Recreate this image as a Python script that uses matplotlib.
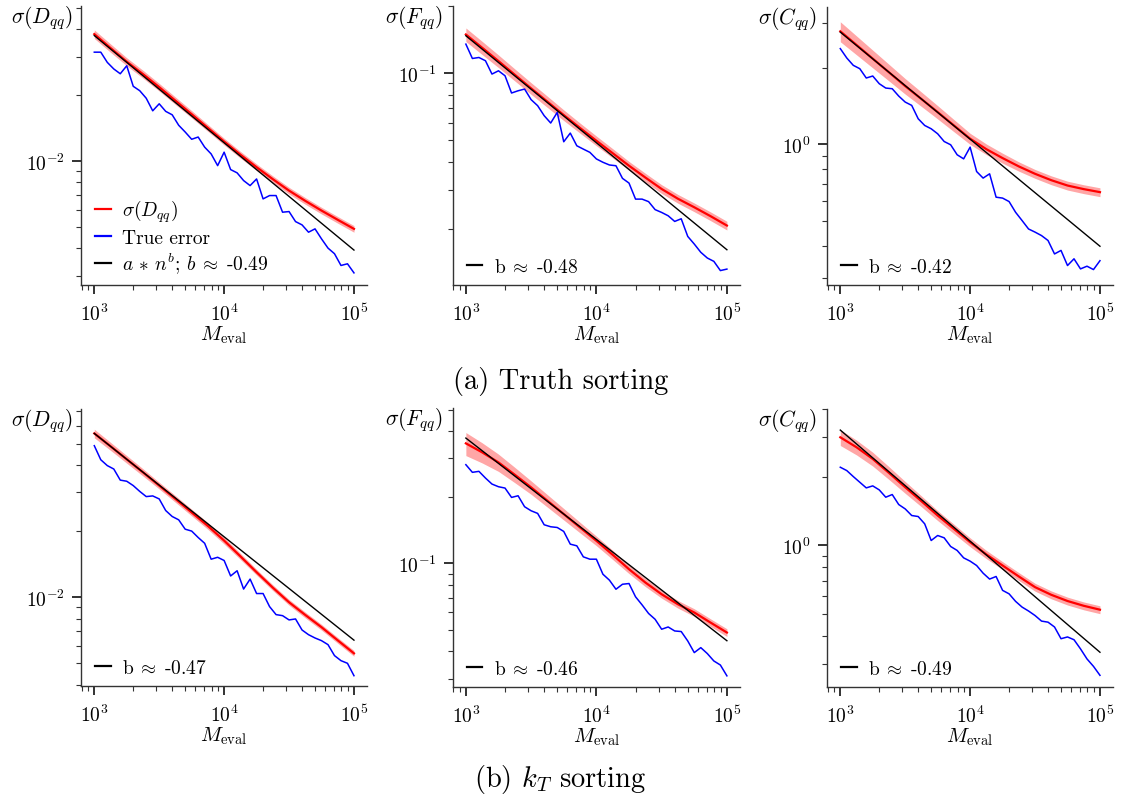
import matplotlib
matplotlib.use("Agg")
import matplotlib.pyplot as plt
from matplotlib.ticker import NullFormatter

plt.rcParams["font.family"] = ["cmr10", "DejaVu Serif"]
plt.rcParams["mathtext.fontset"] = "cm"
plt.rcParams["axes.formatter.use_mathtext"] = True
plt.rcParams["axes.unicode_minus"] = False
plt.rcParams["font.size"] = 14

# evaluation sizes for the true error curves
m_eval = [1000, 1122, 1259, 1413, 1585, 1778, 1995, 2239, 2512, 2818,
          3162, 3548, 3981, 4467, 5012, 5623, 6310, 7079, 7943, 8913,
          10000, 11220, 12589, 14125, 15849, 17783, 19953, 22387, 25119, 28184,
          31623, 35481, 39811, 44668, 50119, 56234, 63096, 70795, 79433, 89125,
          100000]
# evaluation sizes for the predicted sigma curves
m_sigma = [1000, 1334, 1778, 2371, 3162, 4217, 5623, 7499, 10000,
           13335, 17783, 23714, 31623, 42170, 56234, 74989, 100000]

# ---- truth sorting ----
truth_D_sigma = [0.0381, 0.0329, 0.0285, 0.0250, 0.0218, 0.0189, 0.0164, 0.0142, 0.0123,
                 0.01072, 0.00939, 0.00828, 0.00734, 0.00659, 0.00595, 0.00540, 0.00491]
truth_D_band = [0.045, 0.044, 0.042, 0.041, 0.04, 0.039, 0.038, 0.036, 0.035,
                0.035, 0.035, 0.035, 0.035, 0.035, 0.035, 0.035, 0.035]
truth_D_err = [0.0315, 0.0315, 0.0283, 0.0264, 0.0251, 0.0273, 0.0220, 0.0210, 0.0194, 0.0170,
               0.0183, 0.0169, 0.0163, 0.0146, 0.0136, 0.0126, 0.0129, 0.0116, 0.0108, 0.00955,
               0.0110, 0.00916, 0.00885, 0.00816, 0.00774, 0.00830, 0.00673, 0.00697, 0.00697, 0.00585,
               0.00589, 0.00530, 0.00512, 0.00474, 0.00491, 0.00442, 0.00401, 0.00378, 0.00334, 0.00340,
               0.00309]

truth_F_sigma = [0.1490, 0.1299, 0.1132, 0.0983, 0.0854, 0.0744, 0.0648, 0.0567, 0.0497,
                 0.0437, 0.0384, 0.0340, 0.0302, 0.0273, 0.0250, 0.0228, 0.0207]
truth_F_band = [0.07, 0.068, 0.065, 0.062, 0.06, 0.058, 0.055, 0.052, 0.05,
                0.048, 0.045, 0.045, 0.045, 0.045, 0.045, 0.045, 0.045]
truth_F_err = [0.1349, 0.1163, 0.1175, 0.1136, 0.0990, 0.1024, 0.0973, 0.0814, 0.0833, 0.0848,
               0.0760, 0.0714, 0.0644, 0.0597, 0.0666, 0.0492, 0.0538, 0.0472, 0.0456, 0.0441,
               0.0412, 0.0398, 0.0387, 0.0384, 0.0337, 0.0321, 0.0272, 0.0272, 0.0265, 0.0244,
               0.0237, 0.0229, 0.0216, 0.0222, 0.0185, 0.0171, 0.0157, 0.0148, 0.0143, 0.0130,
               0.0132]

truth_C_sigma = [2.778, 2.455, 2.170, 1.918, 1.694, 1.507, 1.339, 1.187, 1.053,
                 0.958, 0.884, 0.820, 0.767, 0.724, 0.690, 0.668, 0.650]
truth_C_band = [0.09, 0.085, 0.08, 0.075, 0.07, 0.065, 0.06, 0.055, 0.05,
                0.048, 0.045, 0.042, 0.04, 0.04, 0.04, 0.04, 0.04]
truth_C_err = [2.376, 2.183, 2.043, 1.982, 1.822, 1.855, 1.731, 1.664, 1.654, 1.548,
               1.466, 1.423, 1.261, 1.187, 1.152, 1.101, 1.027, 0.997, 0.911, 0.878,
               0.976, 0.783, 0.738, 0.767, 0.621, 0.616, 0.597, 0.542, 0.503, 0.466,
               0.453, 0.439, 0.420, 0.372, 0.384, 0.335, 0.356, 0.325, 0.333, 0.323,
               0.350]

# ---- kT sorting ----
kt_D_sigma = [0.0556, 0.0486, 0.0424, 0.0370, 0.0322, 0.0280, 0.0243, 0.0211, 0.0181,
              0.01536, 0.0130, 0.01106, 0.00949, 0.00831, 0.00731, 0.00637, 0.00556]
kt_D_band = [0.045, 0.042, 0.04, 0.038, 0.035, 0.035, 0.035, 0.035, 0.035,
             0.032, 0.03, 0.03, 0.03, 0.03, 0.03, 0.03, 0.03]
kt_D_err = [0.0489, 0.0422, 0.0397, 0.0383, 0.0341, 0.0337, 0.0322, 0.0303, 0.0287, 0.0289,
            0.0280, 0.0248, 0.0233, 0.0225, 0.0204, 0.0200, 0.0187, 0.0176, 0.0149, 0.0152,
            0.0147, 0.0125, 0.0132, 0.0109, 0.0121, 0.0104, 0.0104, 0.00907, 0.00834, 0.00825,
            0.00789, 0.00797, 0.00710, 0.00676, 0.00653, 0.00635, 0.00609, 0.00543, 0.00515, 0.00501,
            0.00440]

kt_F_sigma = [0.351, 0.3195, 0.2877, 0.2529, 0.2216, 0.1927, 0.1676, 0.1457, 0.1268,
              0.1095, 0.0942, 0.0820, 0.0725, 0.0653, 0.0599, 0.0539, 0.0486]
kt_F_band = [0.12, 0.105, 0.09, 0.08, 0.07, 0.065, 0.06, 0.055, 0.05,
             0.048, 0.045, 0.042, 0.04, 0.04, 0.04, 0.04, 0.04]
kt_F_err = [0.2809, 0.2593, 0.2620, 0.2443, 0.2294, 0.2231, 0.2200, 0.1995, 0.2030, 0.1810,
            0.1735, 0.1688, 0.1499, 0.1468, 0.1457, 0.1398, 0.1224, 0.1203, 0.1072, 0.1046,
            0.1046, 0.0894, 0.0840, 0.0764, 0.0805, 0.0811, 0.0706, 0.0649, 0.0593, 0.0558,
            0.0503, 0.0515, 0.0494, 0.0491, 0.0445, 0.0394, 0.0415, 0.0390, 0.0361, 0.0346,
            0.0309]

kt_C_sigma = [3.001, 2.712, 2.409, 2.090, 1.807, 1.568, 1.356, 1.184, 1.034,
              0.913, 0.816, 0.730, 0.655, 0.606, 0.569, 0.542, 0.521]
kt_C_band = [0.08, 0.075, 0.07, 0.065, 0.06, 0.055, 0.05, 0.048, 0.045,
             0.042, 0.04, 0.04, 0.04, 0.04, 0.04, 0.04, 0.04]
kt_C_err = [2.214, 2.140, 2.014, 1.901, 1.795, 1.832, 1.759, 1.633, 1.678, 1.516,
            1.450, 1.356, 1.342, 1.246, 1.052, 1.107, 1.081, 0.990, 0.951, 0.882,
            0.853, 0.816, 0.755, 0.711, 0.730, 0.634, 0.612, 0.567, 0.535, 0.514,
            0.491, 0.464, 0.459, 0.437, 0.388, 0.395, 0.384, 0.350, 0.316, 0.293,
            0.2675]

# power-law fits a * n^b
fit_a = [1.107, 4.05, 50.2, 1.429, 8.90, 95.3]
fit_b = [-0.49, -0.48, -0.42, -0.47, -0.46, -0.49]

ylabels = [r"$\sigma(D_{qq})$", r"$\sigma(F_{qq})$", r"$\sigma(C_{qq})$"]
captions = ["(a) Truth sorting", r"(b) $k_T$ sorting"]

panels = [
    (truth_D_sigma, truth_D_band, truth_D_err, (2.72e-3, 5.12e-2)),
    (truth_F_sigma, truth_F_band, truth_F_err, (1.12e-2, 0.200)),
    (truth_C_sigma, truth_C_band, truth_C_err, (0.281, 3.46)),
    (kt_D_sigma, kt_D_band, kt_D_err, (3.95e-3, 7.18e-2)),
    (kt_F_sigma, kt_F_band, kt_F_err, (2.75e-2, 0.508)),
    (kt_C_sigma, kt_C_band, kt_C_err, (0.2376, 4.0)),
]

W, H = 1121, 803
# axes boxes in pixels: left, top, right, bottom
boxes = [(81, 7, 367, 286), (452.5, 7, 740, 286), (827, 8, 1113, 286),
         (81, 410, 367, 687), (452.5, 409, 740, 688), (827, 410, 1113, 688)]

fig = plt.figure(figsize=(W / 100, H / 100), dpi=100)

for i, (sig, band, err, ylim) in enumerate(panels):
    l, t, r, b = boxes[i]
    ax = fig.add_axes([l / W, 1 - b / H, (r - l) / W, (b - t) / H])
    lo = [s * (1 - w) for s, w in zip(sig, band)]
    hi = [s * (1 + w) for s, w in zip(sig, band)]
    ax.fill_between(m_sigma, lo, hi, color="red", alpha=0.35, lw=0)
    ax.plot(m_sigma, sig, color="red", lw=1.6, label=ylabels[i % 3])
    ax.plot(m_eval, err, color="blue", lw=1.1, label="True error")
    fit_x = [m_eval[0], m_eval[-1]]
    fit_y = [fit_a[i] * x ** fit_b[i] for x in fit_x]
    if i == 0:
        fit_lbl = r"$a\,\ast\,n^b$; $b\;\approx\;$-" + f"{abs(fit_b[i]):.2f}"
    else:
        fit_lbl = r"b$\;\approx\;$-" + f"{abs(fit_b[i]):.2f}"
    fit_line, = ax.plot(fit_x, fit_y, color="black", lw=1.0, label=fit_lbl)

    ax.set_xscale("log")
    ax.set_yscale("log")
    ax.set_xlim(790, 1.26e5)
    ax.set_ylim(*ylim)
    ax.xaxis.set_minor_formatter(NullFormatter())
    ax.yaxis.set_minor_formatter(NullFormatter())
    ax.spines["top"].set_visible(False)
    ax.spines["right"].set_visible(False)
    for s in ("left", "bottom"):
        ax.spines[s].set_linewidth(1.0)
        ax.spines[s].set_color("#333333")
    ax.tick_params(which="major", length=6.5, width=1.3, color="#222222")
    ax.tick_params(which="minor", length=3.6, width=0.8, color="#333333")
    ax.tick_params(axis="x", which="major", pad=6)
    ax.tick_params(axis="y", which="major", pad=5)
    ax.set_xlabel(r"$M_{\rm eval}$", fontsize=15, labelpad=0)
    ax.text(-39 / (r - l), 1.0 + 3 / (b - t), ylabels[i % 3], transform=ax.transAxes,
            ha="center", va="top", fontsize=15.5)

    handles = None if i == 0 else [fit_line]
    leg = ax.legend(handles=handles, loc="lower left", bbox_to_anchor=(0.022, 0.005),
                    frameon=False, handlelength=0.8, handletextpad=0.6,
                    labelspacing=0.22, borderaxespad=0)
    for h in leg.legend_handles:
        h.set_linewidth(1.6)

fig.text(0.5, 1 - 382 / H, captions[0], ha="center", va="center", fontsize=20.5)
fig.text(0.5, 1 - 780 / H, captions[1], ha="center", va="center", fontsize=20.5)

fig.savefig("out.png", dpi=100)
